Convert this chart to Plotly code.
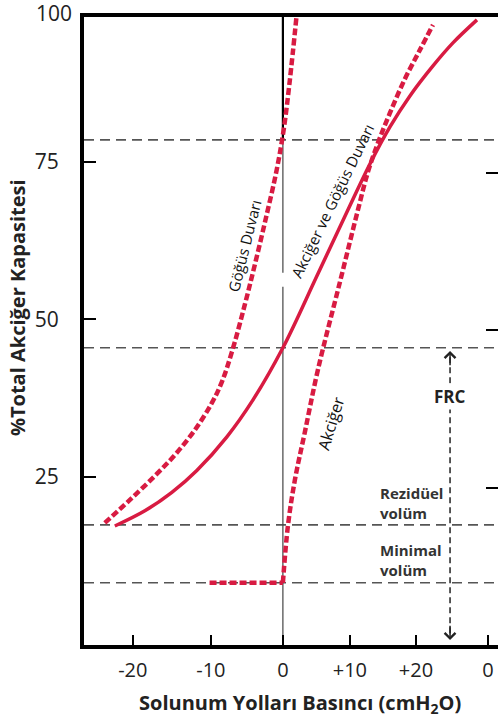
import plotly.graph_objects as go

# ---- data ----
# Chest wall (Göğüs Duvarı) - dashed
chest_x = [-25.25, -21.70, -18.16, -15.32, -12.48, -10.07, -8.65, -7.23, -5.39, -3.83, -2.27,
           -0.85, 0.14, 0.99, 1.91]
chest_y = [17.70, 21.35, 25.16, 28.49, 32.46, 36.75, 40.08, 44.84, 52.38, 59.37, 66.75,
           73.89, 80.33, 88.02, 97.86]

# Lung + chest wall (Akciğer ve Göğüs Duvarı) - solid
comb_x = [-23.83, -19.57, -15.74, -12.2, -7.94, -4.26, 0.0, 4.82, 9.08, 12.34, 15.18,
          18.01, 21.28, 24.11, 27.52]
comb_y = [17.22, 19.63, 22.56, 26.03, 31.37, 37.19, 45.5, 56.9, 67.06, 74.68, 80.56,
          85.48, 90.24, 93.89, 97.54]

# Lung (Akciğer) - dashed
lung_x = [-10.4, 0.0, 0.71, 1.70, 3.12, 4.96, 8.09, 10.64, 12.06, 13.48, 15.18, 17.3,
          19.43, 21.28]
lung_y = [8.2, 8.2, 17.22, 24.52, 32.14, 41.98, 55.95, 67.38, 73.41, 78.02, 82.78, 88.17,
          92.78, 96.75]

# Reference volume levels (crossing, FRC, residual, minimal)
level_vals = [78.5, 45.5, 17.4, 8.2]

# Axis ticks
x_tick_pos = [-21.28, -10.21, 0.0, 9.50, 18.87, 29.08]
x_tick_text = ["-20", "-10", "0", "+10", "+20", "0"]
y_tick_vals = [25, 50, 75]
y_tick_text = ["25", "50", "75"]

x_range = [-28.2, 30.5]
y_range = [-1.67, 98.0]
y2_offset = 1.75

frc_x = 23.7
frc_top = 45.0
frc_bottom = -0.87

RED = "#D81B42"
FONT = "Open Sans"

fig = go.Figure()

# vertical zero line (thin below crossing, thick above)
fig.add_trace(go.Scatter(x=[0, 0], y=[y_range[0], 55.2], mode="lines",
                         line=dict(color="#444", width=1.2), hoverinfo="skip", showlegend=False))
fig.add_trace(go.Scatter(x=[0, 0], y=[57.4, level_vals[0]], mode="lines",
                         line=dict(color="#444", width=1.2), hoverinfo="skip", showlegend=False))
fig.add_trace(go.Scatter(x=[0, 0], y=[level_vals[0], y_range[1]], mode="lines",
                         line=dict(color="#000", width=2.2), hoverinfo="skip", showlegend=False))

# FRC dashed arrow line
fig.add_trace(go.Scatter(x=[frc_x, frc_x], y=[frc_top - 1, frc_bottom + 1], mode="lines",
                         line=dict(color="#222", width=1.5, dash="6px,4px"),
                         hoverinfo="skip", showlegend=False))

# curves
fig.add_trace(go.Scatter(x=chest_x, y=chest_y, mode="lines", line_shape="spline",
                         line=dict(color=RED, width=4.5, dash="7px,3px"), showlegend=False))
fig.add_trace(go.Scatter(x=comb_x, y=comb_y, mode="lines", line_shape="spline",
                         line=dict(color=RED, width=3.5), showlegend=False))
fig.add_trace(go.Scatter(x=lung_x[:2], y=lung_y[:2], mode="lines",
                         line=dict(color=RED, width=4.5, dash="7px,3px"), showlegend=False))
fig.add_trace(go.Scatter(x=lung_x[1:], y=lung_y[1:], mode="lines", line_shape="spline",
                         line=dict(color=RED, width=4.5, dash="7px,3px"), showlegend=False))

# invisible trace for right axis
fig.add_trace(go.Scatter(x=[x_range[0]], y=[50], yaxis="y2", mode="markers",
                         marker=dict(opacity=0), hoverinfo="skip", showlegend=False))

for v in level_vals:
    fig.add_hline(y=v, line=dict(color="#555", width=1.6, dash="10px,6px"), layer="below")

ann = []
# arrowheads of FRC
ann.append(dict(x=frc_x, y=frc_top, ax=frc_x, ay=frc_top - 2.5, xref="x", yref="y",
                axref="x", ayref="y", text="", showarrow=True, arrowhead=4,
                arrowsize=1.4, arrowwidth=1.5, arrowcolor="#222"))
ann.append(dict(x=frc_x, y=frc_bottom, ax=frc_x, ay=frc_bottom + 2.5, xref="x", yref="y",
                axref="x", ayref="y", text="", showarrow=True, arrowhead=4,
                arrowsize=1.4, arrowwidth=1.5, arrowcolor="#222"))
ann.append(dict(x=frc_x, y=37.7, xref="x", yref="y", text="<b>FRC</b>", showarrow=False,
                bgcolor="white", font=dict(family=FONT, size=17, color="#222")))
ann.append(dict(x=13.5, y=20.9, xref="x", yref="y", text="<b>Rezidüel<br>volüm</b>",
                showarrow=False, xanchor="left", align="left",
                font=dict(family=FONT, size=15, color="#333")))
ann.append(dict(x=13.5, y=11.8, xref="x", yref="y", text="<b>Minimal<br>volüm</b>",
                showarrow=False, xanchor="left", align="left",
                font=dict(family=FONT, size=15, color="#333")))
# curve labels
ann.append(dict(x=-5.5, y=61.7, xref="x", yref="y", text="Göğüs Duvarı", showarrow=False,
                textangle=-76, font=dict(family=FONT, size=15, color="#111")))
ann.append(dict(x=7.0, y=68.8, xref="x", yref="y", text="Akciğer ve Göğüs Duvarı",
                showarrow=False, textangle=-64, font=dict(family=FONT, size=15, color="#111")))
ann.append(dict(x=6.8, y=33.6, xref="x", yref="y", text="Akciğer", showarrow=False,
                textangle=-73, font=dict(family=FONT, size=16, color="#111")))
# top "100" label
ann.append(dict(x=0, y=1, xref="paper", yref="paper", text="100", showarrow=False,
                xanchor="right", yanchor="middle", xshift=-10, yshift=4,
                font=dict(family=FONT, size=21, color="#222")))
# axis titles
ann.append(dict(x=0, y=51.8, xref="paper", yref="y", text="<b>%Total Akciğer Kapasitesi</b>",
                showarrow=False, textangle=-90, xanchor="center", yanchor="middle",
                xshift=-67, font=dict(family=FONT, size=20, color="#222")))
ann.append(dict(x=0.522, y=0, xref="paper", yref="paper",
                text="<b>Solunum Yolları Basıncı (cmH<sub>2</sub>O)</b>",
                showarrow=False, xanchor="center", yanchor="middle", yshift=-58,
                font=dict(family=FONT, size=20, color="#222")))

fig.update_layout(
    width=498, height=723,
    margin=dict(l=84, r=0, t=17, b=78),
    paper_bgcolor="white", plot_bgcolor="white",
    font=dict(family=FONT, color="#222"),
    showlegend=False,
    annotations=ann,
    xaxis=dict(range=x_range, showgrid=False, zeroline=False,
               showline=True, linecolor="black", linewidth=4, mirror=True,
               tickmode="array", tickvals=x_tick_pos, ticktext=x_tick_text,
               ticks="inside", ticklen=10, tickwidth=2, tickcolor="black",
               tickfont=dict(family=FONT, size=20, color="#222"),
               ticklabelstandoff=4),
    yaxis=dict(range=y_range, showgrid=False, zeroline=False,
               showline=True, linecolor="black", linewidth=4,
               tickmode="array", tickvals=y_tick_vals, ticktext=y_tick_text,
               ticks="inside", ticklen=12, tickwidth=2, tickcolor="black",
               tickfont=dict(family=FONT, size=21, color="#222"),
               ticklabelstandoff=17),
    yaxis2=dict(range=[y_range[0] + y2_offset, y_range[1] + y2_offset],
                overlaying="y", side="right", anchor="x",
                showgrid=False, zeroline=False, showline=False,
                tickmode="array", tickvals=y_tick_vals,
                ticks="inside", ticklen=12, tickwidth=2, tickcolor="black",
                showticklabels=False),
)

fig.write_html("out.html", config={"displayModeBar": False},
               post_script="document.body.style.margin='0px';")
